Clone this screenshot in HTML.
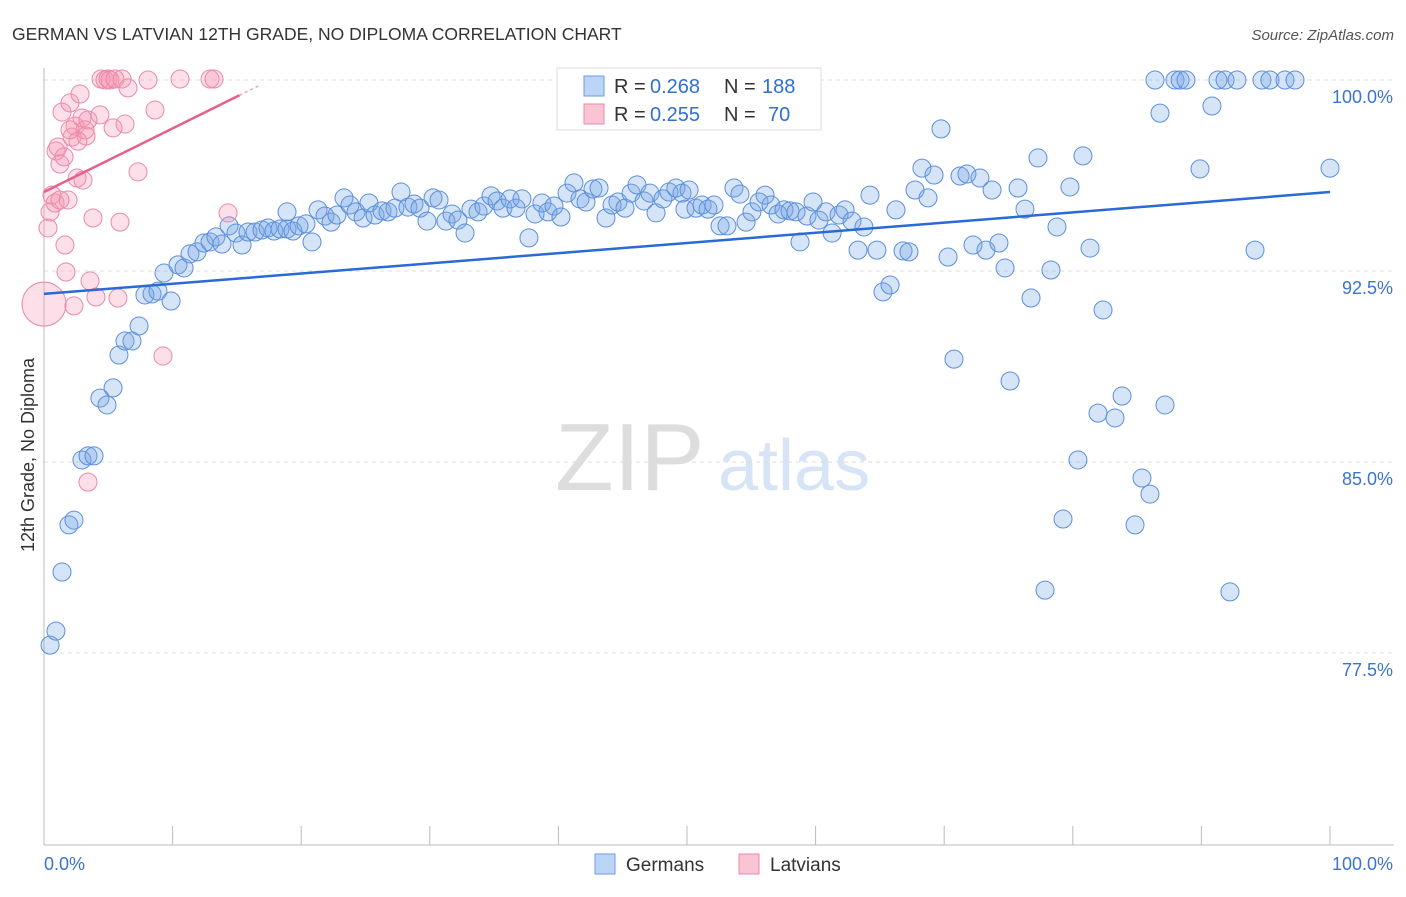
<!DOCTYPE html>
<html><head><meta charset="utf-8"><style>
body{margin:0;background:#fff;font-family:"Liberation Sans",sans-serif}
svg text{font-family:"Liberation Sans",sans-serif}
</style></head><body>
<svg id="c" width="1406" height="892">
<text x="12" y="40" font-size="17.5" fill="#333">GERMAN VS LATVIAN 12TH GRADE, NO DIPLOMA CORRELATION CHART</text>
<text x="1394" y="40" font-size="15" fill="#555" text-anchor="end" font-style="italic">Source: ZipAtlas.com</text>
<text x="34" y="455" font-size="18" fill="#333" text-anchor="middle" transform="rotate(-90 34 455)">12th Grade, No Diploma</text>
<text x="555" y="490" font-size="96" fill="#ddd" font-family="Liberation Serif">ZIP</text>
<text x="718" y="490" font-size="72" fill="#d6e4f5">atlas</text>
<g id="grid"></g><g id="pts"></g><g id="lines"></g>
<g>
<rect x="557" y="68" width="264" height="62" fill="#fff" stroke="#ddd"/>
<rect x="584" y="76" width="20" height="20" fill="#bcd4f5" stroke="#6a9be0"/>
<rect x="584" y="104" width="20" height="20" fill="#f9c5d5" stroke="#e88aa8"/>
<text x="614" y="93" font-size="20" fill="#333">R =</text>
<text x="650" y="93" font-size="20" fill="#2f6fd6">0.268</text>
<text x="724" y="93" font-size="20" fill="#333">N =</text>
<text x="762" y="93" font-size="20" fill="#2f6fd6">188</text>
<text x="614" y="121" font-size="20" fill="#333">R =</text>
<text x="650" y="121" font-size="20" fill="#2f6fd6">0.255</text>
<text x="724" y="121" font-size="20" fill="#333">N =</text>
<text x="768" y="121" font-size="20" fill="#2f6fd6">70</text>
</g>
<g>
<rect x="595" y="854" width="20" height="20" fill="#bcd4f5" stroke="#6a9be0"/>
<text x="626" y="871" font-size="19" fill="#333">Germans</text>
<rect x="739" y="854" width="20" height="20" fill="#f9c5d5" stroke="#e88aa8"/>
<text x="770" y="871" font-size="19" fill="#333">Latvians</text>
</g>
</svg>
<script>
const yTicks=[100,92.5,85,77.5];
const yTickLabels=["100.0%","92.5%","85.0%","77.5%"];
const bluePx=[[50,645],[56,631],[62,572],[69,525],[74,520],[82,460],[88,456],[94,456],[100,398],[107,405],[113,388],[119,355],[125,341],[132,341],[139,326],[145,295],[152,294],[158,291],[164,273],[171,301],[178,265],[184,268],[190,254],[197,252],[204,243],[210,242],[216,237],[222,244],[229,226],[236,233],[242,245],[248,232],[255,232],[262,230],[268,228],[274,231],[280,229],[287,229],[293,231],[299,226],[306,224],[312,242],[287,212],[318,210],[325,216],[331,222],[337,215],[344,198],[350,205],[356,212],[363,218],[369,203],[375,215],[382,211],[388,212],[395,208],[401,192],[408,207],[414,204],[420,208],[427,221],[433,198],[439,200],[446,221],[452,214],[458,220],[465,233],[471,209],[478,212],[484,206],[491,196],[497,201],[503,208],[510,199],[516,208],[522,199],[529,238],[535,214],[542,203],[548,212],[554,206],[561,217],[567,193],[574,183],[580,199],[586,202],[593,189],[599,188],[606,218],[612,205],[618,202],[625,208],[631,193],[637,185],[644,201],[650,193],[656,213],[663,199],[669,192],[676,188],[682,193],[689,190],[685,209],[696,208],[702,205],[708,209],[714,205],[720,226],[727,226],[734,188],[740,194],[746,222],[752,212],[759,202],[765,195],[771,205],[778,214],[784,210],[790,211],[796,212],[800,242],[807,216],[813,202],[819,220],[826,212],[832,233],[839,215],[845,210],[852,221],[858,250],[864,227],[870,195],[877,250],[883,292],[890,285],[896,210],[903,251],[909,252],[915,190],[922,168],[928,198],[934,175],[941,129],[948,257],[954,359],[960,176],[967,174],[973,245],[980,178],[986,250],[992,190],[999,243],[1005,268],[1010,381],[1018,188],[1025,209],[1031,298],[1038,158],[1045,590],[1051,270],[1057,227],[1063,519],[1070,187],[1078,460],[1083,156],[1090,248],[1098,413],[1103,310],[1115,418],[1122,396],[1135,525],[1142,478],[1150,494],[1155,80],[1160,113],[1165,405],[1175,80],[1180,80],[1186,80],[1200,169],[1212,106],[1218,80],[1225,80],[1230,592],[1237,80],[1255,250],[1262,80],[1270,80],[1285,80],[1295,80],[1330,168]];
const pinkPx=[[48,228],[50,212],[52,195],[55,203],[56,151],[58,147],[60,164],[62,112],[64,157],[65,245],[66,272],[68,200],[70,103],[72,137],[74,306],[75,126],[77,178],[80,94],[82,118],[83,180],[85,130],[86,136],[88,120],[90,281],[93,218],[96,297],[100,115],[101,79],[105,80],[108,79],[110,80],[113,128],[115,79],[118,298],[120,222],[122,79],[125,124],[128,88],[138,172],[148,80],[155,110],[163,356],[180,79],[210,79],[214,79],[228,213],[88,482],[60,200],[70,130],[78,141]];
const germansX=bluePx.map(p=>+((p[0]-44)/12.86).toFixed(2));
const germansY=bluePx.map(p=>+(100-(p[1]-80)*7.5/191).toFixed(2));
const latviansX=pinkPx.map(p=>+((p[0]-44)/12.86).toFixed(2));
const latviansY=pinkPx.map(p=>+(100-(p[1]-80)*7.5/191).toFixed(2));
const blueTrend=[[0,91.6],[100,95.6]];
const pinkTrend=[[0,95.6],[15.2,99.4]];
const X=v=>44+v*12.86, Y=v=>80+(100-v)*191/7.5;
const NS="http://www.w3.org/2000/svg";
function mk(t,a,parent){const e=document.createElementNS(NS,t);for(const k in a)e.setAttribute(k,a[k]);parent.appendChild(e);return e;}
const grid=document.getElementById('grid'),pts=document.getElementById('pts'),lines=document.getElementById('lines');
yTicks.forEach((t,i)=>{
 const l=mk('line',{x1:44,x2:1394,y1:Y(t),y2:Y(t),stroke:'#ddd','stroke-dasharray':'4,4'},grid);
 
 
 const tx=mk('text',{x:1393,y:Y(t)+23,'font-size':18,fill:'#3a73d0','text-anchor':'end'},grid);
 tx.textContent=yTickLabels[i];
 
 
});
let a=mk('line',{x1:44,x2:44,y1:68,y2:845,stroke:'#bbb'},grid);

a=mk('line',{x1:44,x2:1394,y1:845,y2:845,stroke:'#bbb'},grid);

for(let i=0;i<=10;i++){const t=mk('line',{x1:X(i*10),x2:X(i*10),y1:826,y2:845,stroke:'#bbb'},grid);
 }
[['0.0%',44,'start'],['100.0%',1393,'end']].forEach(d=>{const t=mk('text',{x:d[1],y:870,'font-size':18,fill:'#3a73d0','text-anchor':d[2]},grid);t.textContent=d[0];
 });
germansX.forEach((x,i)=>{const c=mk('circle',{cx:X(x),cy:Y(germansY[i]),r:9,fill:'rgba(120,165,230,0.3)',stroke:'#5b8fdc','stroke-width':1},pts);
 });
latviansX.forEach((x,i)=>{const c=mk('circle',{cx:X(x),cy:Y(latviansY[i]),r:9,fill:'rgba(245,150,180,0.3)',stroke:'#e98aa8','stroke-width':1},pts);
 });
const big=mk('circle',{cx:X(0),cy:Y(91.2),r:22,fill:'rgba(245,150,180,0.3)',stroke:'#e98aa8'},pts);

let l=mk('line',{x1:X(blueTrend[0][0]),y1:Y(blueTrend[0][1]),x2:X(blueTrend[1][0]),y2:Y(blueTrend[1][1]),stroke:'#2a6ad4','stroke-width':2.5},lines);

l=mk('line',{x1:X(pinkTrend[0][0]),y1:Y(pinkTrend[0][1]),x2:X(pinkTrend[1][0]),y2:Y(pinkTrend[1][1]),stroke:'#e8608a','stroke-width':2.5},lines);

l=mk('line',{x1:X(pinkTrend[1][0]),y1:Y(pinkTrend[1][1]),x2:X(16.8),y2:Y(99.8),stroke:'#f0a0b8','stroke-width':1.5,'stroke-dasharray':'3,3'},lines);

</script>
</body></html>
